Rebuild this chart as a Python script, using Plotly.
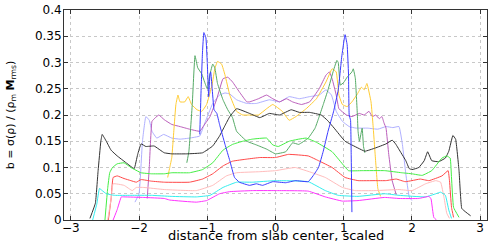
import plotly.graph_objects as go

# ---------------- data ----------------
black_x = [-2.72, -2.64, -2.60, -2.56, -2.54, -2.48, -2.41, -2.32, -2.20, -2.10, -2.07, -2.02, -1.97, -1.90, -1.78, -1.63, -1.52, -1.30, -1.07, -0.92, -0.82, -0.74, -0.67, -0.57, -0.38, -0.23, -0.09, 0.06, 0.23, 0.35, 0.50, 0.67, 0.76, 0.86, 1.02, 1.21, 1.31, 1.46, 1.62, 1.71, 1.76, 1.84, 1.91, 1.96, 2.00, 2.10, 2.18, 2.23, 2.29, 2.39, 2.49, 2.54, 2.60, 2.64, 2.69, 2.73, 2.79, 2.86]
black_y = [0.003, 0.032, 0.094, 0.150, 0.163, 0.150, 0.133, 0.122, 0.110, 0.100, 0.098, 0.125, 0.145, 0.140, 0.141, 0.128, 0.126, 0.126, 0.128, 0.141, 0.160, 0.180, 0.197, 0.212, 0.203, 0.195, 0.203, 0.200, 0.210, 0.205, 0.205, 0.200, 0.190, 0.175, 0.150, 0.137, 0.131, 0.137, 0.145, 0.152, 0.145, 0.128, 0.113, 0.098, 0.096, 0.100, 0.113, 0.130, 0.113, 0.111, 0.118, 0.131, 0.161, 0.154, 0.094, 0.022, 0.015, 0.008]

lime_x = [-2.50, -2.46, -2.43, -2.39, -2.32, -2.22, -2.12, -1.97, -1.82, -1.63, -1.52, -1.26, -1.07, -0.92, -0.77, -0.63, -0.48, -0.34, -0.13, -0.04, 0.04, 0.20, 0.34, 0.45, 0.60, 0.83, 0.98, 1.07, 1.27, 1.60, 1.85, 2.00, 2.15, 2.29, 2.44, 2.51, 2.56, 2.58, 2.61, 2.69]
lime_y = [0.000, 0.060, 0.090, 0.100, 0.107, 0.109, 0.100, 0.090, 0.088, 0.088, 0.090, 0.090, 0.096, 0.109, 0.133, 0.144, 0.150, 0.154, 0.156, 0.143, 0.140, 0.150, 0.154, 0.156, 0.148, 0.130, 0.107, 0.094, 0.094, 0.094, 0.090, 0.088, 0.085, 0.094, 0.118, 0.122, 0.118, 0.080, 0.024, 0.005]

red_x = [-2.45, -2.41, -2.38, -2.32, -2.22, -2.12, -2.04, -1.97, -1.82, -1.63, -1.26, -1.07, -0.92, -0.77, -0.63, -0.42, -0.23, 0.00, 0.19, 0.48, 0.63, 0.83, 1.02, 1.21, 1.46, 1.62, 1.77, 1.90, 2.00, 2.12, 2.25, 2.44, 2.53, 2.55, 2.58, 2.61]
red_y = [0.000, 0.040, 0.081, 0.084, 0.079, 0.075, 0.072, 0.077, 0.074, 0.072, 0.072, 0.078, 0.088, 0.103, 0.112, 0.116, 0.119, 0.119, 0.125, 0.122, 0.113, 0.100, 0.081, 0.075, 0.075, 0.075, 0.078, 0.073, 0.075, 0.078, 0.075, 0.084, 0.094, 0.075, 0.024, 0.005]

pink_x = [-2.46, -2.41, -2.38, -2.22, -2.10, -2.04, -1.93, -1.63, -1.16, -0.92, -0.72, -0.57, -0.23, 0.00, 0.29, 0.54, 0.73, 0.98, 1.17, 1.46, 1.81, 2.00, 2.20, 2.35, 2.42, 2.47, 2.51, 2.55]
pink_y = [0.000, 0.040, 0.069, 0.066, 0.056, 0.062, 0.062, 0.058, 0.056, 0.066, 0.084, 0.090, 0.092, 0.094, 0.100, 0.090, 0.081, 0.062, 0.056, 0.056, 0.058, 0.056, 0.069, 0.075, 0.072, 0.043, 0.013, 0.003]

cyan_x = [-2.68, -2.62, -2.58, -2.54, -2.48, -2.36, -2.12, -1.82, -1.53, -1.16, -0.96, -0.77, -0.57, -0.34, 0.00, 0.48, 0.73, 0.92, 1.21, 1.60, 1.81, 2.20, 2.35, 2.42, 2.49, 2.54, 2.58]
cyan_y = [0.000, 0.030, 0.060, 0.056, 0.050, 0.047, 0.047, 0.047, 0.045, 0.044, 0.047, 0.062, 0.072, 0.072, 0.075, 0.073, 0.056, 0.047, 0.045, 0.050, 0.047, 0.044, 0.050, 0.053, 0.047, 0.019, 0.003]

magenta_x = [-2.38, -2.32, -2.26, -2.22, -1.93, -1.63, -1.55, -1.16, -1.01, -0.82, -0.67, -0.34, 0.00, 0.48, 0.73, 0.98, 1.21, 1.60, 1.81, 2.10, 2.25, 2.28, 2.32, 2.36]
magenta_y = [0.000, 0.020, 0.044, 0.044, 0.043, 0.041, 0.038, 0.034, 0.037, 0.050, 0.054, 0.056, 0.056, 0.055, 0.044, 0.036, 0.037, 0.043, 0.041, 0.041, 0.045, 0.040, 0.005, 0.000]

blue_x = [-1.11, -1.09, -1.07, -1.05, -1.02, -1.00, -0.98, -0.96, -0.95, -0.93, -0.90, -0.86, -0.82, -0.74, -0.67, -0.60, -0.53, -0.38, -0.28, -0.19, -0.04, 0.15, 0.29, 0.48, 0.55, 0.63, 0.70, 0.77, 0.85, 0.92, 0.97, 1.01, 1.02, 1.05, 1.07, 1.08, 1.10, 1.11, 1.12]
blue_y = [0.163, 0.250, 0.320, 0.357, 0.347, 0.300, 0.235, 0.278, 0.282, 0.253, 0.210, 0.203, 0.182, 0.144, 0.113, 0.081, 0.072, 0.066, 0.069, 0.066, 0.073, 0.071, 0.075, 0.073, 0.084, 0.100, 0.131, 0.169, 0.206, 0.248, 0.310, 0.347, 0.353, 0.334, 0.278, 0.200, 0.190, 0.120, 0.015]

dgreen_x = [-1.30, -1.27, -1.22, -1.18, -1.14, -1.08, -1.04, -1.00, -0.96, -0.92, -0.89, -0.85, -0.77, -0.70, -0.63, -0.57, -0.42, -0.28, -0.13, 0.00, 0.15, 0.25, 0.34, 0.48, 0.58, 0.63, 0.70, 0.77, 0.85, 0.90, 0.92, 0.95, 1.00, 1.05, 1.12, 1.14, 1.17, 1.20, 1.21, 1.23, 1.27, 1.29, 1.31]
dgreen_y = [0.109, 0.130, 0.220, 0.313, 0.290, 0.278, 0.263, 0.250, 0.278, 0.297, 0.290, 0.260, 0.229, 0.210, 0.195, 0.169, 0.150, 0.143, 0.135, 0.126, 0.130, 0.147, 0.144, 0.156, 0.175, 0.193, 0.220, 0.248, 0.285, 0.304, 0.300, 0.257, 0.262, 0.272, 0.282, 0.288, 0.270, 0.200, 0.169, 0.150, 0.175, 0.140, 0.128]

yellow_x = [-1.58, -1.55, -1.52, -1.49, -1.46, -1.43, -1.40, -1.33, -1.28, -1.23, -1.15, -1.08, -1.01, -0.93, -0.89, -0.85, -0.79, -0.74, -0.67, -0.57, -0.48, -0.38, -0.25, -0.13, -0.04, 0.10, 0.20, 0.30, 0.45, 0.60, 0.74, 0.83, 0.89, 0.93, 0.98, 1.05, 1.12, 1.20, 1.26, 1.30, 1.34, 1.40, 1.43, 1.46, 1.50, 1.54]
yellow_y = [0.081, 0.100, 0.119, 0.170, 0.220, 0.238, 0.225, 0.225, 0.235, 0.220, 0.210, 0.207, 0.220, 0.257, 0.288, 0.302, 0.297, 0.276, 0.238, 0.207, 0.200, 0.200, 0.200, 0.212, 0.220, 0.207, 0.190, 0.197, 0.212, 0.231, 0.263, 0.288, 0.282, 0.238, 0.220, 0.216, 0.225, 0.240, 0.253, 0.248, 0.260, 0.225, 0.180, 0.126, 0.060, 0.045]

purple_x = [-1.88, -1.85, -1.81, -1.76, -1.71, -1.63, -1.52, -1.40, -1.26, -1.11, -1.05, -0.96, -0.86, -0.77, -0.70, -0.63, -0.53, -0.42, -0.38, -0.25, -0.13, -0.04, 0.06, 0.16, 0.25, 0.38, 0.50, 0.64, 0.74, 0.79, 0.83, 0.89, 0.93, 1.04, 1.12, 1.23, 1.30, 1.37, 1.42, 1.47, 1.52, 1.56, 1.59, 1.62, 1.66, 1.71, 1.77]
purple_y = [0.041, 0.100, 0.188, 0.195, 0.200, 0.191, 0.182, 0.178, 0.173, 0.169, 0.180, 0.197, 0.231, 0.269, 0.272, 0.263, 0.244, 0.225, 0.225, 0.231, 0.238, 0.231, 0.225, 0.231, 0.225, 0.220, 0.225, 0.250, 0.276, 0.282, 0.269, 0.238, 0.212, 0.200, 0.197, 0.203, 0.200, 0.207, 0.197, 0.200, 0.193, 0.197, 0.185, 0.175, 0.125, 0.075, 0.048]

lav_x = [-2.06, -2.00, -1.95, -1.90, -1.85, -1.81, -1.74, -1.64, -1.52, -1.40, -1.26, -1.11, -1.05, -0.92, -0.82, -0.74, -0.67, -0.57, -0.42, -0.28, -0.09, 0.06, 0.20, 0.35, 0.50, 0.64, 0.74, 0.82, 0.89, 0.98, 1.08, 1.18, 1.35, 1.50, 1.62, 1.72, 1.81, 1.86, 1.91, 1.96, 2.00]
lav_y = [0.034, 0.050, 0.150, 0.197, 0.190, 0.169, 0.156, 0.163, 0.156, 0.154, 0.156, 0.160, 0.180, 0.222, 0.238, 0.242, 0.240, 0.229, 0.222, 0.222, 0.229, 0.225, 0.235, 0.231, 0.235, 0.238, 0.248, 0.238, 0.207, 0.188, 0.178, 0.175, 0.175, 0.173, 0.178, 0.176, 0.178, 0.144, 0.088, 0.044, 0.037]

x_ticks = [-3, -2, -1, 0, 1, 2, 3]
y_ticks = [0, 0.05, 0.1, 0.15, 0.2, 0.25, 0.3, 0.35, 0.4]
y_tick_text = ["0", "0.05", "0.1", "0.15", "0.2", "0.25", "0.3", "0.35", "0.4"]

series = [
    (lav_x, lav_y, "#b0b0ff"),
    (purple_x, purple_y, "#bb5ebb"),
    (yellow_x, yellow_y, "#ffcc33"),
    (dgreen_x, dgreen_y, "#55aa66"),
    (black_x, black_y, "#333333"),
    (lime_x, lime_y, "#44ee44"),
    (red_x, red_y, "#ff4848"),
    (pink_x, pink_y, "#ffbcbc"),
    (cyan_x, cyan_y, "#33eeee"),
    (magenta_x, magenta_y, "#ff33ff"),
    (blue_x, blue_y, "#3a3aff"),
]

fig = go.Figure()
for xs, ys, col in series:
    fig.add_trace(go.Scatter(x=xs, y=ys, mode="lines",
                             line=dict(color=col, width=1, shape="spline", smoothing=0.3),
                             showlegend=False, hoverinfo="skip"))

FONT_FAMILY = "DejaVu Sans, Verdana, sans-serif"
font = dict(family=FONT_FAMILY, size=12, color="#000000")
axis_common = dict(showline=True, linecolor="#333333", linewidth=1, mirror="ticks",
                   ticks="inside", ticklen=4, tickcolor="#333333",
                   showgrid=True, gridcolor="#c8c8c8", griddash="dot", gridwidth=1,
                   zeroline=False, tickfont=font)

fig.update_layout(
    width=491, height=245,
    margin=dict(l=64, r=3, t=7, b=25),
    paper_bgcolor="white", plot_bgcolor="white",
    font=font,
    xaxis=dict(range=[-3.1, 3.1], tickvals=x_ticks, ticklabeloverflow="allow",
               ticklabelstandoff=-3, **axis_common),
    yaxis=dict(range=[0, 0.4], tickvals=y_ticks, ticktext=y_tick_text,
               ticklabelstandoff=-1, **axis_common),
    annotations=[
        dict(text="distance from slab center, scaled", xref="paper", yref="paper",
             x=0.5, y=-0.12, xanchor="center", yanchor="bottom", showarrow=False,
             font=dict(family=FONT_FAMILY, size=13, color="#000")),
        dict(text="b = σ(ρ) / (ρ<sub>m</sub> <b>M</b><sub>rms</sub>)", xref="paper", yref="paper",
             x=-0.125, y=0.5, xanchor="center", yanchor="middle", textangle=-90, showarrow=False,
             font=dict(family=FONT_FAMILY, size=11, color="#000")),
    ],
)

fig.write_html("out.html", config={"displayModeBar": False},
               post_script="document.body.style.margin='0';document.body.style.padding='0';")
